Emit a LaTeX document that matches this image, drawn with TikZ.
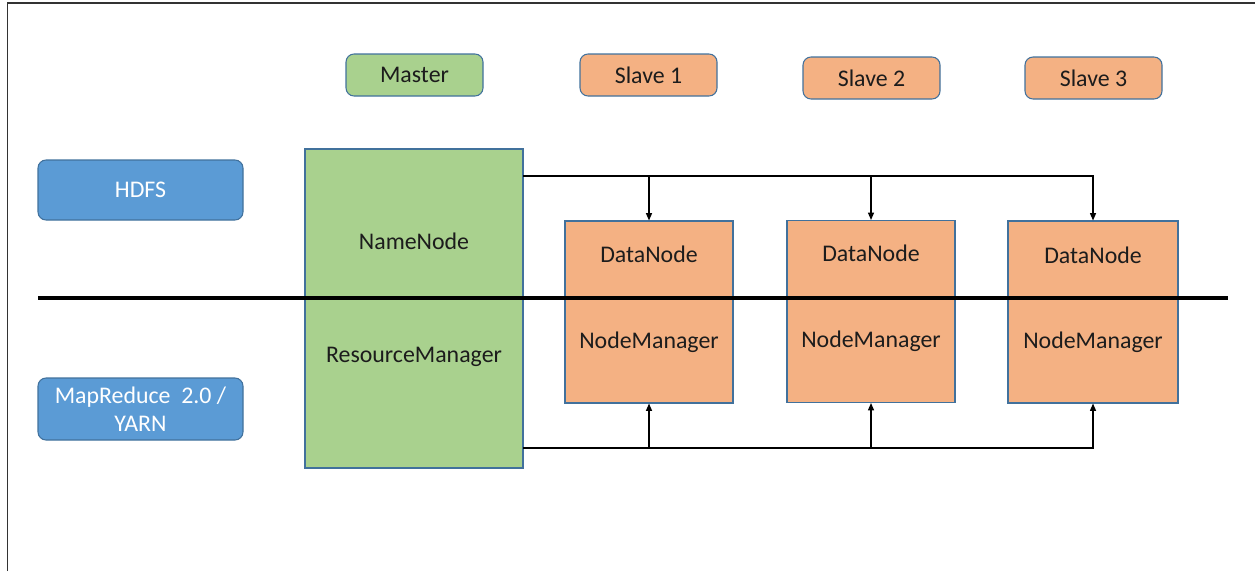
\documentclass[tikz,border=0pt]{standalone}
\usepackage{fontspec}
\setmainfont{Carlito}
\usetikzlibrary{arrows.meta}
\definecolor{mgreen}{HTML}{A9D18E}
\definecolor{morange}{HTML}{F4B183}
\definecolor{mblue}{HTML}{5B9BD5}
\definecolor{mborder}{HTML}{41719C}
\definecolor{mtext}{HTML}{1C1C1C}
\tikzset{
  lbl/.style={font=\fontsize{17.9}{21}\selectfont, text=mtext, inner sep=0pt},
  tag/.style={draw=mborder, line width=0.8pt, rounded corners=6pt, inner sep=0pt, align=center,
    font=\fontsize{17.9}{21}\selectfont},
  roletag/.style={tag, minimum width=102.75pt, minimum height=31.5pt, text=mtext},
  layertag/.style={tag, fill=mblue, minimum width=153.75pt, text=white},
  bigbox/.style={draw=mborder, line width=0.8pt, inner sep=0pt},
  slavebox/.style={bigbox, fill=morange, minimum width=126pt, minimum height=136.5pt},
  conn/.style={line width=0.9pt, draw=black},
  arr/.style={conn, -{Triangle[length=5.5pt,width=4.5pt]}},
  divider/.style={line width=2.4pt, draw=black},
  frame/.style={line width=1.3pt, draw=black!80}
}
\begin{document}
\begin{tikzpicture}[x=0.75pt, y=-0.75pt]
\useasboundingbox (0,0) rectangle (1255,571);
% frame (top and left)
\draw[frame] (7.5,571) -- (7.5,3) -- (1255,3);

% role tags
\node[roletag, fill=mgreen] (master) at (414.5,75) {Master};
\node[roletag, fill=morange] (s1) at (648.5,75) {Slave 1};
\node[roletag, fill=morange] (s2) at (871.5,78) {Slave 2};
\node[roletag, fill=morange] (s3) at (1093.5,78) {Slave 3};

% layer tags
\node[layertag, minimum height=45pt] (hdfs) at (140.5,190) {HDFS};
\node[layertag, minimum height=46.5pt] (yarn) at (140.5,409) {MapReduce\ \ 2.0 /\\YARN};

% master box
\node[bigbox, fill=mgreen, minimum width=163.5pt, minimum height=239.25pt] (mb) at (414,308.5) {};
\node[lbl] (nn) at (414,241) {NameNode};
\node[lbl] (rm) at (414,357) {ResourceManager};

% slave boxes
\node[slavebox] (d1) at (649,312) {};
\node[slavebox] (d2) at (871,311.5) {};
\node[slavebox, minimum width=127.5pt] (d3) at (1093,312) {};
\node[lbl] (dn1) at (649,254) {DataNode};
\node[lbl] (dn2) at (871,253) {DataNode};
\node[lbl] (dn3) at (1093,255) {DataNode};
\node[lbl] (nm1) at (649,342) {NodeManager};
\node[lbl] (nm2) at (871,341) {NodeManager};
\node[lbl] (nm3) at (1093,342) {NodeManager};

% divider
\coordinate (dl) at (38,298);
\coordinate (dr) at (1228,298);
\draw[divider] (dl) -- (dr);

% HDFS connectors
\coordinate (t0) at (523,176);
\draw[arr] (t0) -| (d3.north);
\draw[arr] (t0 -| d1.north) -- (d1.north);
\draw[arr] (t0 -| d2.north) -- (d2.north);

% YARN connectors
\coordinate (b0) at (523,448);
\draw[arr] (b0) -| (d3.south);
\draw[arr] (b0 -| d1.south) -- (d1.south);
\draw[arr] (b0 -| d2.south) -- (d2.south);
\end{tikzpicture}
\end{document}
